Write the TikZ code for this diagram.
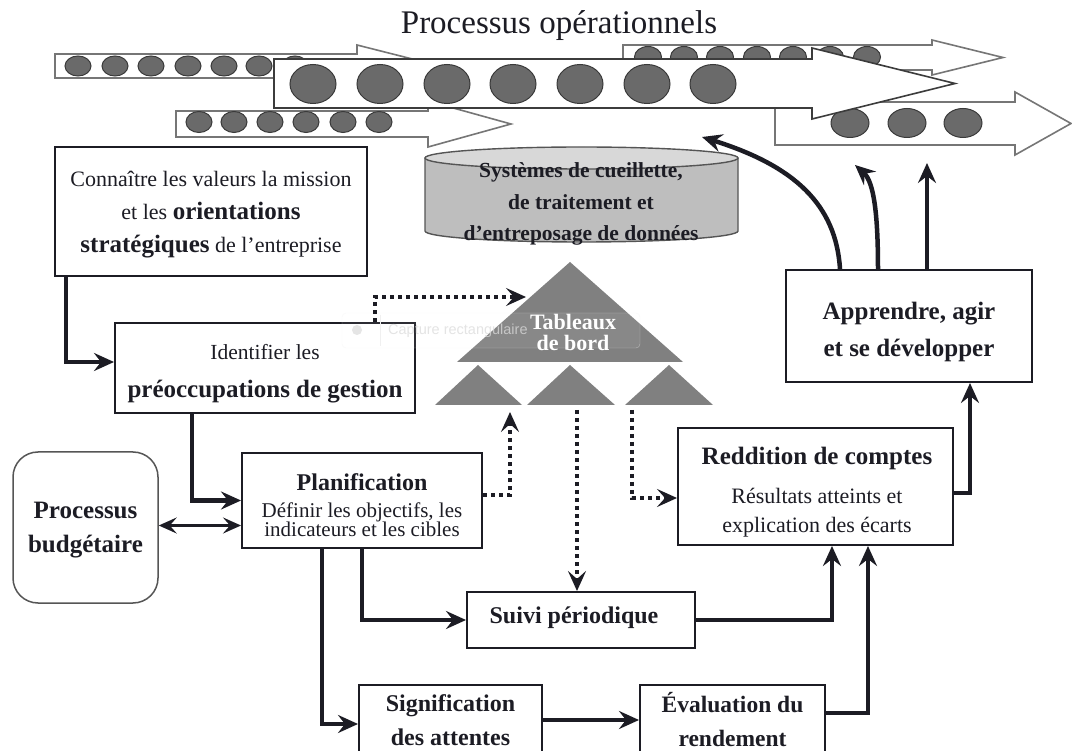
\documentclass[tikz,border=0pt]{standalone}
\usepackage{fontspec}
\setmainfont{Liberation Serif}
\newfontfamily\uifont{Liberation Sans}
\usetikzlibrary{arrows.meta,calc}

\definecolor{ink}{HTML}{1C1C24}
\definecolor{pebblefill}{HTML}{6A6A6A}
\definecolor{pebbleline}{HTML}{3A3A3A}
\definecolor{pipecol}{HTML}{767676}
\definecolor{bigpipe}{HTML}{3C3C3C}
\definecolor{tricol}{HTML}{808080}
\definecolor{cylside}{HTML}{BEBEBE}
\definecolor{cyltop}{HTML}{D8D8D8}
\definecolor{cylline}{HTML}{555555}

\newcommand{\fsbold}{\fontsize{25}{34}\selectfont\bfseries}
\newcommand{\tightlines}{\lineskiplimit=-50pt\relax}

\tikzset{
  box/.style={draw=ink, line width=2pt, fill=white, inner sep=0pt},
  txt/.style={align=center, text=ink, inner sep=0pt},
  pipe/.style={draw=pipecol, line width=1.6pt, fill=white, line join=miter},
  pebble/.style={draw=pebbleline, line width=1pt, fill=pebblefill},
  flow/.style={draw=ink, line width=4.5pt, -{Stealth[length=20pt,width=18pt,inset=7pt]}},
  dbl/.style={draw=ink, line width=2.2pt, {Stealth[length=18pt,width=16pt,inset=7pt]}-{Stealth[length=18pt,width=16pt,inset=7pt]}},
  dots/.style={draw=ink, line width=4pt, dash pattern=on 4pt off 4pt, -{Stealth[length=20pt,width=18pt,inset=8pt]}}
}

\begin{document}
\begin{tikzpicture}[x=1pt,y=-1pt]
\clip (0,0) rectangle (1072,751);
\fill[white] (0,0) rectangle (1072,751);

% ---------- operational processes ----------
\node[txt, font=\fontsize{33}{36}\selectfont] (title) at (559,26) {Processus opérationnels};

\draw[pipe] (623,45) -- (932,45) -- (932,40) -- (1003,57.5) -- (932,75) -- (932,70) -- (623,70) -- cycle;
\foreach \x in {648,684,720,757,793,830,867} \draw[pebble] (\x,57) ellipse [x radius=13.5, y radius=10.5];

\draw[pipe] (55,54) -- (357,54) -- (357,45) -- (440,66) -- (357,87) -- (357,78) -- (55,78) -- cycle;
\foreach \x in {78,115,151,188,224,259,295} \draw[pebble] (\x,66) ellipse [x radius=13, y radius=10];

\draw[pipe] (775,102) -- (1015,102) -- (1015,92) -- (1071,123.5) -- (1015,155) -- (1015,145) -- (775,145) -- cycle;
\foreach \x in {850,907,963} \draw[pebble] (\x,123) ellipse [x radius=19, y radius=14.5];

\draw[pipe] (176,111) -- (428,111) -- (428,101) -- (511,124) -- (428,147) -- (428,137) -- (176,137) -- cycle;
\foreach \x in {199,234,270,306,343,379} \draw[pebble] (\x,122) ellipse [x radius=13, y radius=10.5];

\draw[pipe, draw=bigpipe] (274,59) -- (812,59) -- (812,48) -- (955,83.5) -- (812,119) -- (812,108) -- (274,108) -- cycle;
\foreach \x in {313,380,447,513,580,647,713} \draw[pebble] (\x,84) ellipse [x radius=23, y radius=19.5];

\coordinate (p1) at (702,137);
\coordinate (p2) at (855,165);
\coordinate (p3) at (927,163);

% ---------- data store ----------
\fill[cylside] (425,158) -- (425,231) arc[start angle=180, end angle=0, x radius=156.5, y radius=11] -- (738,158) -- cycle;
\draw[cylline, line width=1.4pt] (425,158) -- (425,231) arc[start angle=180, end angle=0, x radius=156.5, y radius=11] -- (738,158);
\draw[cylline, line width=1.4pt, fill=cyltop] (581.5,158) ellipse [x radius=156.5, y radius=11];
\node[txt, font=\fontsize{21.5}{31.5}\selectfont\bfseries] (store) at (581,204)
  {Systèmes de cueillette,\\ de traitement et\\ d’entreposage de données};

% ---------- dashboards ----------
\fill[tricol] (570,262) -- (683,362) -- (457,362) -- cycle;
\fill[tricol] (478,365) -- (522,405) -- (435,405) -- cycle;
\fill[tricol] (570,365) -- (615,405) -- (527,405) -- cycle;
\fill[tricol] (669,365) -- (713,405) -- (625,405) -- cycle;
\coordinate (tabIn) at (526,297);
\coordinate (t1) at (510,412);
\coordinate (t2) at (577,410);
\coordinate (t3) at (632,410);

% ---------- boxes ----------
\node[box, minimum width=312pt, minimum height=129pt] (know) at (211,211.5) {};
\node[txt, font=\fontsize{22}{33}\selectfont] (know-t) at (211,215)
  {Connaître les valeurs la mission\\ et les {\fsbold orientations}\\ {\fsbold stratégiques} de l’entreprise};

\node[box, minimum width=300pt, minimum height=90pt] (ident) at (265,368) {};
\node[txt, font=\fontsize{21.5}{38}\selectfont] (ident-t) at (265,374)
  {Identifier les\\ {\fsbold préoccupations de gestion}};

\node[box, minimum width=240pt, minimum height=95pt] (plan) at (362,500.5) {};
\node[txt, font=\fontsize{21}{19}\selectfont\tightlines] (plan-t) at (362,505)
  {{\fontsize{24}{19}\selectfont\bfseries Planification}\\[8pt] Définir les objectifs, les\\ indicateurs et les cibles};

\node[box, draw=cylline, line width=1.5pt, rounded corners=25pt, minimum width=145pt, minimum height=151pt] (budget) at (85.5,527.5) {};
\node[txt, font=\fsbold] (budget-t) at (85.5,530) {Processus\\ budgétaire};

\node[box, minimum width=228pt, minimum height=56pt] (suivi) at (581,620) {};
\node[txt, font=\fontsize{24}{30}\selectfont\bfseries] (suivi-t) at (574,618) {Suivi périodique};

\node[box, minimum width=183pt, minimum height=70pt] (signif) at (450.5,720) {};
\node[txt, font=\fontsize{24}{34}\selectfont\bfseries] (signif-t) at (450.5,720) {Signification\\ des attentes};

\node[box, minimum width=185pt, minimum height=70pt] (eval) at (732.5,720) {};
\node[txt, font=\fontsize{23.5}{34}\selectfont\bfseries] (eval-t) at (732.5,720) {Évaluation du\\ rendement};

\node[box, minimum width=275pt, minimum height=117pt] (redd) at (815.5,486.5) {};
\node[txt, font=\fontsize{22}{29}\selectfont] (redd-t) at (817,492)
  {{\fsbold Reddition de comptes}\\[10pt] Résultats atteints et\\ explication des écarts};

\node[box, minimum width=246pt, minimum height=112pt] (appr) at (909,326) {};
\node[txt, font=\fontsize{25}{37}\selectfont\bfseries] (appr-t) at (909,331.5) {Apprendre, agir\\ et se développer};

% screen-capture toolbar, lying over the drawing
\node[draw=gray!10, fill=white, fill opacity=0.07, draw opacity=0.5, rounded corners=4pt,
      minimum width=298pt, minimum height=35pt, inner sep=0pt] (snip) at (491,330.5) {};
\fill[gray!20] (357,330) circle [radius=5];
\draw[gray!12, line width=1pt] (380,315) -- (380,346);
\node[anchor=west, inner sep=0pt, text=gray!28, text opacity=0.75, font=\uifont\fontsize{14.5}{17}\selectfont] (sniptxt) at (388,331) {Capture rectangulaire};

\node[txt, text=white, font=\fontsize{22}{21}\selectfont\bfseries] (tab) at (573,332) {Tableaux\\ de bord};

% ---------- solid connectors ----------
\draw[flow] ([xshift=12pt]know.south west) |- ([yshift=6pt]ident.west);
\draw[flow] ([xshift=-73pt]ident.south) |- (plan.west);
\draw[dbl] ([yshift=2pt]budget.east) -- ([yshift=2pt]budget.east -| plan.west);
\draw[flow] (plan.south) |- (suivi.west);
\draw[flow] ([xshift=-40pt]plan.south) |- ([yshift=-4pt]signif.west);
\draw[flow] (signif.east) -- (eval.west);
\draw[flow] (suivi.east) -| ([xshift=16.5pt]redd.south);
\draw[flow] ([yshift=7pt]eval.east) -| ([xshift=52.5pt]redd.south);
\draw[flow] ([yshift=-6.5pt]redd.east) -| ([xshift=61pt]appr.south);
\draw[flow] ([xshift=-69pt]appr.north) .. controls (836,205) and (795,166) .. (p1);
\draw[flow] ([xshift=-31pt]appr.north) .. controls (878,215) and (874,182) .. (p2);
\draw[flow] ([xshift=18pt]appr.north) -- (p3);

% ---------- dotted connectors ----------
\draw[dots] ([xshift=110pt]ident.north) |- (tabIn);
\draw[dots] ([yshift=5.5pt]plan.east) -| (t1);
\draw[dots] (t2) -- (t2 |- suivi.north);
\draw[dots] (t3) |- ([yshift=-11.5pt]redd.west);
\end{tikzpicture}
\end{document}
